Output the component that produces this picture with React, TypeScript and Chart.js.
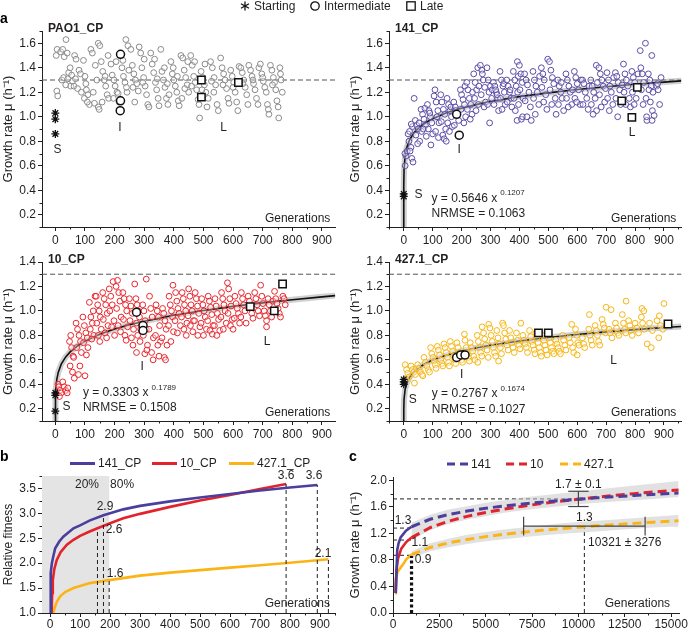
import React, { useEffect, useRef } from 'react';
import { Chart, registerables } from 'chart.js';

Chart.register(...registerables);

const FONT = '"Liberation Sans", Arial, Helvetica, sans-serif';
Chart.defaults.font.family = FONT;
Chart.defaults.font.size = 12;
Chart.defaults.color = '#231f20';

type P = [number, number];

// ---------- tick labels ----------
const A_X_TICKS = [0, 100, 200, 300, 400, 500, 600, 700, 800, 900];
const A_Y_TICKS_TOP = [0.2, 0.4, 0.6, 0.8, 1.0, 1.2, 1.4, 1.6];
const A_Y_TICKS_BOTTOM = [0.2, 0.4, 0.6, 0.8, 1.0, 1.2, 1.4];
const B_Y_TICKS = [1.0, 1.5, 2.0, 2.5, 3.0, 3.5];
const C_X_TICKS = [0, 2500, 5000, 7500, 10000, 12500, 15000];
const C_Y_TICKS = [0, 0.4, 0.8, 1.2, 1.6, 2.0];

// ---------- panel a : PAO1_CP ----------
const PAO1_POINTS: P[] = [
  [3,1.50],[5,1.21],[8,1.17],[6,1.55],[18,1.53],[25,1.55],[30,1.49],[22,1.30],[35,1.26],[28,1.32],
  [40,1.52],[45,1.36],[50,1.40],[55,1.34],[42,1.31],[58,1.29],[52,1.25],[36,1.63],
  [65,1.50],[70,1.47],[80,1.38],[85,1.35],[63,1.25],[75,1.23],[88,1.20],[68,1.31],
  [95,1.46],[100,1.33],[105,1.22],[110,1.18],[98,1.15],[115,1.10],[108,1.12],[103,1.27],
  [120,1.55],[125,1.52],[135,1.42],[140,1.30],[128,1.20],[145,1.08],[132,1.11],[148,1.06],[145,1.60],[150,1.58],
  [155,1.45],[160,1.37],[165,1.30],[170,1.25],[175,1.18],[180,1.15],[158,1.12],[178,1.50],[168,1.33],
  [188,1.43],[192,1.34],[198,1.30],[202,1.25],[208,1.20],[212,1.19],[196,1.15],[215,1.12],[205,1.45],
  [238,1.63],[245,1.58],[225,1.40],[230,1.33],[235,1.28],[242,1.20],[248,1.38],[228,1.46],[240,1.24],
  [255,1.55],[260,1.42],[265,1.35],[270,1.30],[275,1.27],[280,1.21],[268,1.12],[283,1.57],[262,1.24],
  [288,1.52],[292,1.40],[298,1.32],[303,1.25],[308,1.18],[312,1.10],[316,1.08],[300,1.47],[295,1.28],
  [322,1.52],[327,1.43],[332,1.36],[338,1.28],[342,1.22],[347,1.15],[350,1.09],[335,1.47],[344,1.31],
  [356,1.55],[360,1.37],[365,1.30],[370,1.24],[375,1.15],[380,1.10],[384,1.18],[368,1.40],[378,1.27],
  [390,1.45],[395,1.35],[400,1.30],[405,1.25],[410,1.20],[415,1.13],[418,1.09],[398,1.40],[412,1.33],
  [424,1.50],[430,1.48],[435,1.38],[440,1.32],[445,1.26],[450,1.20],[427,1.15],[447,1.45],[437,1.23],
  [457,1.50],[462,1.42],[467,1.33],[472,1.28],[477,1.22],[482,1.14],[485,1.10],[470,1.45],[460,1.25],
  [487,0.99],[492,1.37],[498,1.32],[503,1.26],[508,1.20],[512,1.08],[516,1.15],[505,1.43],[495,1.22],
  [524,1.45],[530,1.40],[536,1.32],[541,1.26],[546,1.10],[550,1.05],[535,1.20],[527,1.29],
  [558,1.48],[563,1.40],[568,1.35],[573,1.30],[578,1.23],[583,1.15],[586,1.11],[566,1.26],
  [592,1.38],[597,1.33],[602,1.28],[607,1.20],[612,1.12],[616,1.05],[620,1.41],[600,1.24],
  [626,1.40],[631,1.36],[636,1.30],[641,1.24],[646,1.18],[650,1.10],[653,1.42],[633,1.27],
  [659,1.38],[664,1.33],[669,1.27],[674,1.22],[679,1.15],[684,1.10],[687,1.40],[667,1.30],
  [692,1.43],[697,1.35],[702,1.29],[707,1.24],[712,1.20],[716,1.10],[719,1.06],[721,1.02],[700,1.32],
  [726,1.42],[731,1.38],[736,1.32],[740,1.28],[744,1.22],[748,1.13],[752,1.08],[754,0.99],[733,1.26],
  [758,1.40],[762,1.30],[766,1.20],[760,1.35],
];
const PAO1_START: P[] = [[0, 1.03], [0, 0.98], [0, 0.86]];
const PAO1_INTER: P[] = [[220, 1.51], [220, 1.13], [219, 1.05]];
const PAO1_LATE: P[] = [[493, 1.30], [493, 1.16], [618, 1.28]];

// ---------- panel a : 141_CP ----------
const C141_POINTS: P[] = [
  [5,0.60],[8,0.68],[4,0.70],[12,0.72],
  [15,0.86],[20,0.88],[18,0.80],[25,0.75],[22,0.72],[28,0.66],[32,0.63],[30,0.92],[26,0.94],
  [36,1.15],[40,0.97],[45,0.93],[50,0.90],[42,0.85],[55,0.80],[48,0.78],[53,0.95],
  [60,1.06],[65,1.02],[70,0.98],[75,0.93],[62,0.88],[78,0.84],[68,0.90],[73,1.07],
  [82,1.10],[87,1.05],[92,1.00],[97,0.95],[85,0.90],[100,0.86],[94,0.77],[90,1.03],
  [108,1.22],[105,1.17],[112,1.12],[118,1.05],[115,1.00],[122,0.95],[110,0.88],[120,0.83],
  [128,1.18],[132,1.12],[137,1.06],[142,1.02],[130,0.96],[145,0.90],[135,0.85],[140,0.82],[147,0.80],
  [150,1.15],[155,1.10],[160,1.05],[165,1.00],[152,0.95],[168,0.92],[158,0.88],[163,1.08],
  [173,1.12],[178,1.08],[185,1.02],[190,0.97],[175,0.93],[188,0.84],[180,1.05],
  [196,1.22],[200,1.18],[205,1.14],[210,1.10],[198,1.06],[214,1.00],[208,0.95],[212,1.25],
  [218,1.28],[222,1.22],[227,1.15],[232,1.10],[220,1.06],[236,1.02],[230,0.98],[238,1.20],
  [256,1.40],[242,1.35],[247,1.28],[252,1.22],[245,1.15],[258,1.10],[250,1.05],[260,1.25],
  [265,1.42],[270,1.38],[275,1.30],[280,1.24],[268,1.18],[283,1.12],[278,1.08],[272,1.35],
  [297,0.95],[288,1.40],[292,1.30],[300,1.25],[295,1.20],[304,1.15],[290,1.10],[306,1.22],
  [310,1.28],[315,1.25],[320,1.20],[325,1.15],[312,1.10],[328,1.05],[318,1.22],[323,1.18],
  [333,1.37],[338,1.30],[343,1.25],[348,1.20],[335,1.15],[351,1.10],[340,1.06],[346,1.27],
  [356,1.30],[361,1.25],[366,1.20],[371,1.15],[358,1.12],[374,1.08],[368,1.22],
  [379,1.37],[384,1.30],[389,1.25],[394,1.20],[381,1.15],[397,1.10],[386,1.05],[392,0.97],[396,1.33],
  [393,1.45],[400,1.42],[405,1.35],[410,1.28],[402,1.22],[413,1.15],[407,0.98],[411,1.00],
  [418,1.35],[423,1.30],[428,1.26],[433,1.20],[420,1.13],[438,1.08],[426,1.00],[441,0.97],
  [447,1.37],[452,1.30],[457,1.25],[462,1.20],[449,1.15],[467,1.10],[455,1.02],[470,1.33],
  [498,1.47],[476,1.40],[481,1.35],[486,1.30],[478,1.24],[491,1.18],[484,1.12],[495,1.06],
  [504,1.45],[509,1.38],[514,1.32],[519,1.27],[506,1.22],[524,1.15],[512,1.10],[527,1.02],
  [533,1.30],[538,1.25],[543,1.20],[548,1.15],[535,1.10],[553,1.05],[545,1.28],
  [561,1.35],[566,1.30],[571,1.25],[576,1.20],[563,1.15],[581,1.10],[569,1.08],[584,1.22],
  [590,1.37],[595,1.32],[600,1.27],[605,1.22],[592,1.15],[610,1.10],[598,1.12],[613,1.30],
  [618,1.30],[623,1.27],[628,1.20],[633,1.15],[620,1.10],[638,1.06],[641,1.25],
  [647,1.30],[652,1.25],[657,1.20],[662,1.15],[649,1.10],[667,1.05],[655,1.02],[670,1.28],[666,1.42],
  [675,1.40],[680,1.35],[685,1.30],[690,1.25],[677,1.18],[695,1.12],[683,1.08],[698,1.23],
  [703,1.36],[708,1.30],[713,1.25],[718,1.20],[705,1.15],[723,1.10],[711,1.05],[726,1.32],
  [732,1.36],[737,1.33],[742,1.28],[747,1.22],[734,1.15],[750,1.10],[740,1.00],[755,1.26],
  [760,1.43],[765,1.35],[770,1.30],[775,1.25],[762,1.20],[780,1.15],[768,1.10],[784,1.08],
  [818,1.54],[789,1.37],[794,1.32],[799,1.28],[791,1.20],[804,1.15],[797,1.10],[810,1.35],
  [836,1.60],[820,1.40],[825,1.35],[830,1.28],[822,1.22],[838,1.15],[828,1.10],[841,0.97],[840,1.00],
  [858,1.50],[846,1.35],[851,1.30],[856,1.25],[848,1.22],[862,1.20],[853,1.12],[860,1.05],[859,0.97],[866,1.01],
  [890,1.32],[875,1.25],[880,1.22],[885,1.10],[878,1.27],
];
const C141_START: P[] = [[0, 0.37], [0, 0.35]];
const C141_INTER: P[] = [[183, 1.02], [192, 0.85]];
const C141_LATE: P[] = [[754, 1.13], [789, 0.995], [808, 1.24]];
const C141_FIT: P[] = [
  [0,0.1],[0.001,0.245],[0.1,0.428],[1,0.565],[5,0.686],[10,0.745],[20,0.811],[35,0.867],[50,0.905],
  [75,0.951],[100,0.984],[150,1.034],[200,1.070],[250,1.099],[300,1.124],[400,1.164],[500,1.195],
  [600,1.222],[700,1.245],[800,1.265],[900,1.283],[960,1.293],
];

// ---------- panel a : 10_CP ----------
const C10_POINTS: P[] = [
  [9,0.40],[12,0.38],[16,0.35],[20,0.33],[14,0.30],
  [25,0.42],[30,0.38],[35,0.35],[40,0.33],[42,0.37],
  [52,0.80],[48,0.75],[55,0.70],[60,0.63],[50,0.55],[58,0.50],[64,0.45],[62,0.62],
  [70,0.90],[75,0.85],[80,0.80],[85,0.75],[72,0.70],[88,0.66],[78,0.48],[83,0.55],
  [93,0.95],[98,0.88],[103,0.82],[108,0.78],[95,0.74],[110,0.70],[105,0.64],[100,0.47],
  [134,1.12],[115,1.07],[120,0.95],[125,0.90],[118,0.85],[130,0.80],[123,0.77],[128,1.00],
  [138,1.12],[143,1.05],[148,1.00],[152,0.95],[140,0.90],[155,0.85],[145,0.80],[150,0.75],
  [160,1.15],[165,1.10],[170,1.05],[175,0.98],[162,0.93],[178,0.88],[168,0.82],[173,0.78],
  [195,1.24],[182,1.18],[187,1.12],[192,1.05],[184,1.00],[198,0.92],[190,0.87],[200,0.80],
  [210,1.25],[205,1.20],[214,1.15],[218,1.08],[207,1.02],[222,0.95],[212,0.88],[220,0.83],
  [228,1.15],[232,1.10],[237,1.05],[241,1.00],[230,0.93],[244,0.87],[235,0.80],[239,0.76],
  [268,1.22],[250,1.10],[255,1.04],[260,0.98],[252,0.92],[264,0.85],[257,0.78],[262,0.72],
  [272,1.10],[276,1.05],[280,1.00],[284,0.95],[274,0.90],[288,0.85],[278,0.80],[286,0.75],[274,0.66],
  [295,1.05],[299,1.00],[303,0.92],[307,0.85],[297,0.80],[311,0.72],[302,0.65],[309,0.68],
  [307,1.26],[318,1.12],[322,1.02],[327,0.95],[316,0.85],[331,0.78],[325,0.66],[330,0.60],
  [340,1.05],[344,1.00],[348,0.95],[352,0.88],[338,0.80],[355,0.75],[346,0.72],[350,0.63],
  [362,1.02],[366,0.98],[370,0.92],[374,0.85],[360,0.78],[377,0.72],[368,0.62],[372,0.60],
  [384,1.12],[388,1.05],[392,1.00],[396,0.95],[382,0.88],[399,0.83],[390,0.75],[397,1.21],
  [406,1.15],[410,1.08],[414,1.02],[418,0.98],[404,0.92],[422,0.88],[412,0.82],
  [428,1.15],[432,1.10],[436,1.05],[440,1.00],[426,0.95],[444,0.90],[434,0.85],[442,0.80],
  [450,1.18],[454,1.12],[458,1.05],[462,1.00],[448,0.96],[466,0.92],[456,0.88],[464,0.83],
  [472,1.15],[476,1.10],[480,1.04],[484,0.98],[470,0.92],[488,0.87],[481,0.80],
  [494,1.10],[498,1.05],[502,1.00],[506,0.95],[492,0.90],[510,0.85],[500,0.80],
  [516,1.12],[520,1.08],[524,1.03],[528,0.97],[514,0.92],[532,0.88],[522,0.84],[530,0.81],
  [539,1.10],[543,1.04],[547,0.98],[551,0.93],[537,0.88],[555,0.84],[545,0.80],
  [561,1.15],[565,1.10],[569,1.05],[573,1.00],[559,0.95],[577,0.90],[567,0.85],
  [581,1.23],[585,1.18],[589,1.10],[593,1.04],[583,0.98],[597,0.93],[591,0.88],[600,0.85],
  [606,1.12],[610,1.06],[614,1.02],[618,0.98],[604,0.94],[622,0.90],
  [628,1.15],[632,1.10],[636,1.05],[640,1.00],[626,0.95],[644,0.90],
  [651,1.12],[655,1.08],[659,1.03],[663,0.98],[667,0.94],
  [673,1.15],[677,1.10],[681,1.05],[685,1.00],[689,0.96],
  [693,1.21],[697,1.12],[701,1.06],[705,1.00],[709,0.96],[713,0.92],
  [718,1.10],[722,1.05],[726,1.00],[730,0.95],[713,0.87],[734,1.08],
  [740,1.16],[744,1.10],[748,1.06],[752,1.02],[756,0.98],[760,0.95],
  [768,1.12],[772,1.10],[776,1.05],
];
const C10_START: P[] = [[0, 0.33], [0, 0.31], [0, 0.18]];
const C10_INTER: P[] = [[274, 0.99], [296, 0.88], [296, 0.84]];
const C10_LATE: P[] = [[658, 1.035], [739, 1.0], [767, 1.22]];
const C10_FIT: P[] = [
  [0,0.1],[0.1,0.219],[1,0.330],[5,0.441],[10,0.499],[20,0.565],[35,0.624],[50,0.665],[75,0.715],
  [100,0.753],[150,0.810],[200,0.852],[250,0.887],[300,0.916],[400,0.965],[500,1.004],[600,1.037],
  [700,1.066],[800,1.092],[900,1.115],[945,1.125],
];

// ---------- panel a : 427.1_CP ----------
const C427_POINTS: P[] = [
  [5,0.56],[10,0.52],[14,0.49],[18,0.46],[8,0.44],
  [25,0.55],[30,0.52],[35,0.50],[40,0.48],[37,0.41],[44,0.53],
  [48,0.56],[53,0.53],[58,0.50],[63,0.48],[66,0.47],
  [70,0.62],[75,0.58],[80,0.55],[85,0.52],[89,0.50],
  [93,0.70],[97,0.65],[101,0.62],[105,0.59],[109,0.56],[112,0.53],
  [116,0.71],[120,0.68],[124,0.64],[128,0.60],[132,0.57],[135,0.55],
  [139,0.73],[143,0.70],[147,0.66],[151,0.62],[155,0.58],[158,0.55],
  [161,0.75],[165,0.71],[169,0.67],[173,0.63],[177,0.60],[180,0.57],
  [184,0.74],[188,0.70],[192,0.66],[196,0.63],[200,0.60],[203,0.58],
  [210,0.81],[212,0.76],[216,0.70],[220,0.66],[224,0.62],[227,0.59],
  [230,0.74],[234,0.70],[238,0.67],[242,0.63],[246,0.60],[256,0.58],
  [271,0.87],[254,0.80],[258,0.75],[262,0.70],[266,0.66],[270,0.63],
  [294,0.89],[276,0.82],[280,0.77],[284,0.72],[288,0.68],[292,0.62],
  [298,0.86],[302,0.80],[306,0.75],[310,0.70],[314,0.66],[318,0.63],
  [342,0.90],[322,0.84],[326,0.78],[330,0.73],[334,0.70],[338,0.65],[328,0.59],
  [345,0.88],[349,0.82],[353,0.77],[357,0.72],[361,0.68],
  [366,0.84],[370,0.78],[374,0.74],[378,0.70],[382,0.66],
  [405,0.90],[390,0.82],[394,0.76],[398,0.72],[402,0.69],
  [412,0.80],[416,0.76],[420,0.73],[424,0.70],[428,0.66],
  [435,0.84],[439,0.79],[443,0.75],[447,0.72],[451,0.68],[454,0.65],
  [457,0.82],[461,0.78],[465,0.74],[469,0.70],[473,0.66],[476,0.63],
  [480,0.80],[484,0.76],[488,0.72],[492,0.68],[496,0.64],
  [503,0.78],[507,0.74],[511,0.70],[515,0.67],[519,0.65],
  [526,0.76],[530,0.73],[534,0.70],[538,0.67],[542,0.65],
  [549,0.80],[553,0.76],[557,0.72],[561,0.68],
  [581,0.89],[572,0.78],[576,0.74],[584,0.70],[588,0.66],
  [594,0.85],[598,0.80],[602,0.74],[606,0.72],[600,0.64],
  [642,0.97],[618,0.78],[622,0.73],[626,0.70],
  [640,0.85],[644,0.80],[648,0.76],[652,0.72],
  [662,0.88],[666,0.84],[670,0.80],[674,0.75],[678,0.72],
  [700,1.03],[686,0.93],[690,0.89],[694,0.86],[698,0.82],
  [717,1.01],[710,0.85],[714,0.82],[720,0.78],
  [732,0.90],[736,0.86],[740,0.82],[744,0.80],
  [769,1.08],[756,0.97],[760,0.90],[764,0.85],[768,0.82],
  [778,0.92],[782,0.88],[786,0.84],[790,0.80],
  [824,1.02],[830,1.00],[800,0.90],[806,0.86],[812,0.82],
  [822,0.95],[826,0.90],[832,0.85],[842,0.73],[856,0.70],
  [884,0.96],[850,0.90],[860,0.84],[882,0.78],
  [900,1.06],[876,0.92],[888,0.88],[896,0.85],
];
const C427_START: P[] = [[0, 0.44], [0, 0.42], [0, 0.40]];
const C427_INTER: P[] = [[183, 0.62], [197, 0.64], [212, 0.64]];
const C427_LATE: P[] = [[466, 0.82], [500, 0.82], [914, 0.893]];
const C427_FIT: P[] = [
  [0,0.1],[0.1,0.188],[1,0.277],[5,0.362],[10,0.407],[20,0.457],[35,0.502],[50,0.533],[75,0.570],
  [100,0.598],[150,0.640],[200,0.672],[250,0.697],[300,0.719],[400,0.754],[500,0.783],[600,0.807],
  [700,0.829],[800,0.847],[900,0.864],[960,0.873],
];

// ---------- panel b : relative fitness ----------
const B_141: P[] = [
  [0,1.0],[1,1.45],[3,1.8],[6,2.0],[10,2.12],[17,2.3],[30,2.43],[44,2.53],[60,2.61],[78,2.7],[100,2.76],
  [133,2.86],[178,2.96],[244,3.08],[300,3.15],[400,3.24],[500,3.32],[600,3.39],[700,3.46],[800,3.52],[891,3.57],
];
const B_10: P[] = [
  [5,1.0],[7,1.4],[9,1.66],[14,1.88],[22,2.06],[35,2.22],[56,2.37],[78,2.47],[100,2.55],[130,2.63],[158,2.7],
  [200,2.8],[244,2.9],[300,2.99],[400,3.13],[500,3.26],[600,3.37],[700,3.49],[787,3.59],
];
const B_427: P[] = [
  [11,1.0],[16,1.12],[22,1.22],[33,1.33],[50,1.42],[78,1.5],[100,1.54],[133,1.6],[197,1.66],[300,1.75],
  [400,1.81],[500,1.86],[600,1.91],[700,1.96],[800,2.01],[928,2.08],
];

// ---------- panel c : extrapolation ----------
const C_141_SOLID: P[] = [[150,0.3],[230,0.95],[300,1.05],[411,1.14],[700,1.24],[1000,1.30]];
const C_10_SOLID: P[] = [[140,0.3],[190,0.65],[270,0.82],[446,0.97],[714,1.07],[1000,1.14]];
const C_427_SOLID: P[] = [[125,0.3],[150,0.52],[250,0.62],[400,0.68],[535,0.73],[714,0.81],[1000,0.88]];
const C_141_DASH: P[] = [
  [1000,1.30],[2000,1.413],[3000,1.484],[4000,1.536],[5000,1.579],[6000,1.613],[7000,1.644],[8000,1.670],
  [9000,1.694],[10000,1.716],[11000,1.736],[12000,1.754],[13000,1.771],[14000,1.787],[15000,1.802],[15400,1.808],
];
const C_10_DASH: P[] = [
  [1000,1.137],[2000,1.287],[3000,1.384],[4000,1.457],[5000,1.516],[6000,1.566],[7000,1.610],[8000,1.649],
  [9000,1.684],[10000,1.716],[11000,1.746],[12000,1.773],[13000,1.799],[14000,1.823],[15000,1.845],[15400,1.854],
];
const C_427_DASH: P[] = [
  [1000,0.879],[2000,0.988],[3000,1.057],[4000,1.109],[5000,1.151],[6000,1.187],[7000,1.218],[8000,1.246],
  [9000,1.271],[10000,1.293],[11000,1.314],[12000,1.333],[13000,1.351],[14000,1.368],[15000,1.384],[15400,1.390],
];
const C_BAND_HI: P[] = [
  [1000,1.36],[2000,1.48],[3000,1.56],[4000,1.61],[5000,1.66],[6000,1.70],[7000,1.74],[8000,1.77],
  [9000,1.80],[10000,1.83],[11000,1.86],[12000,1.89],[13000,1.92],[14000,1.95],[15000,1.98],[15400,1.99],
];
const C_BAND_LO: P[] = [
  [1000,1.10],[2000,1.25],[3000,1.34],[4000,1.41],[5000,1.46],[6000,1.51],[7000,1.55],[8000,1.58],
  [9000,1.61],[10000,1.64],[11000,1.66],[12000,1.68],[13000,1.70],[14000,1.72],[15000,1.74],[15400,1.75],
];
const C_YBAND_HI: P[] = [
  [1000,0.93],[2000,1.05],[3000,1.12],[4000,1.18],[5000,1.22],[6000,1.26],[7000,1.29],[8000,1.32],
  [9000,1.35],[10000,1.37],[11000,1.39],[12000,1.41],[13000,1.43],[14000,1.45],[15000,1.47],[15400,1.48],
];
const C_YBAND_LO: P[] = [
  [1000,0.83],[2000,0.93],[3000,0.99],[4000,1.04],[5000,1.08],[6000,1.11],[7000,1.14],[8000,1.17],
  [9000,1.19],[10000,1.21],[11000,1.23],[12000,1.25],[13000,1.27],[14000,1.29],[15000,1.30],[15400,1.30],
];
const GEN_AT_PLATEAU = 10321;
const GEN_SD = 3276;
const MU_PLATEAU = 1.72;
const MU_SD = 0.115;

// ---------- colours ----------
const COL_PAO1 = '#8a8a8a';
const COL_141 = '#5a4da6';
const COL_10 = '#e8262d';
const COL_427 = '#f6b512';
const LINE_141 = '#4b3f9e';
const LINE_10 = '#e3232b';
const LINE_427 = '#fbb416';
const INK = '#231f20';

// ---------- helpers ----------
const pts = (a: P[]) => a.map(([x, y]) => ({ x, y }));

function drawItems(chart: any, items: any[]) {
  const { ctx, chartArea: a } = chart;
  const X = (v: number) => chart.scales.x.getPixelForValue(v);
  const Y = (v: number) => chart.scales.y.getPixelForValue(v);
  for (const it of items) {
    ctx.save();
    if (it.kind === 'rect') {
      const x0 = Math.max(a.left, X(it.x0));
      const x1 = Math.min(a.right, X(it.x1));
      ctx.fillStyle = it.color;
      ctx.fillRect(x0, a.top, x1 - x0, a.bottom - a.top);
    } else if (it.kind === 'seg') {
      ctx.strokeStyle = it.color || INK;
      ctx.lineWidth = it.width || 1;
      ctx.setLineDash(it.dash || []);
      ctx.beginPath();
      ctx.moveTo(X(it.x0), Y(it.y0));
      ctx.lineTo(X(it.x1), Y(it.y1));
      ctx.stroke();
    } else if (it.kind === 'text') {
      const px = it.ax ? (it.ax === 'left' ? a.left : a.right) + (it.dx || 0) : X(it.x) + (it.dx || 0);
      const py = it.ay ? (it.ay === 'top' ? a.top : a.bottom) + (it.dy || 0) : Y(it.y) + (it.dy || 0);
      ctx.fillStyle = it.color || INK;
      ctx.font = `${it.bold ? 'bold ' : ''}${it.size || 12}px ${FONT}`;
      ctx.textAlign = it.align || 'center';
      ctx.textBaseline = 'middle';
      ctx.fillText(it.text, px, py);
      if (it.sup) {
        const w = ctx.measureText(it.text).width;
        ctx.font = `8px ${FONT}`;
        ctx.textAlign = 'left';
        ctx.fillText(it.sup, px + w + 3, py - 5);
      }
    }
    ctx.restore();
  }
}

function drawMinor(chart: any, minor: any) {
  if (!minor) return;
  const { ctx, chartArea: a } = chart;
  ctx.save();
  ctx.strokeStyle = INK;
  ctx.lineWidth = 1;
  const isMajor = (v: number, m: number) => Math.abs(v / m - Math.round(v / m)) < 1e-6;
  if (minor.x) {
    const s = chart.scales.x;
    const [step, major] = minor.x;
    for (let v = Math.ceil(s.min / step) * step; v <= s.max + 1e-9; v += step) {
      if (isMajor(v, major)) continue;
      const p = Math.round(s.getPixelForValue(v)) + 0.5;
      ctx.beginPath(); ctx.moveTo(p, a.bottom); ctx.lineTo(p, a.bottom + 2.5); ctx.stroke();
    }
  }
  if (minor.y) {
    const s = chart.scales.y;
    const [step, major] = minor.y;
    for (let v = Math.ceil(s.min / step - 1e-9) * step; v <= s.max + 1e-9; v += step) {
      if (isMajor(v, major)) continue;
      const p = Math.round(s.getPixelForValue(v)) + 0.5;
      ctx.beginPath(); ctx.moveTo(a.left - 2.5, p); ctx.lineTo(a.left, p); ctx.stroke();
    }
  }
  ctx.restore();
}

function makeDeco(spec: any) {
  return {
    id: 'deco',
    beforeDatasetsDraw(chart: any) { drawItems(chart, spec.before || []); },
    afterDatasetsDraw(chart: any) { drawItems(chart, spec.after || []); },
    afterDraw(chart: any) { drawMinor(chart, spec.minor); },
  };
}

function scaleOpts(min: number, max: number, ticks: number[], fmt: (v: number) => string, fit: number, horizontal: boolean, title?: string, pad = 2) {
  return {
    type: 'linear',
    min, max,
    bounds: 'data',
    afterBuildTicks: (s: any) => { s.ticks = ticks.map((v) => ({ value: v })); },
    afterFit: (s: any) => { if (horizontal) s.height = fit; else s.width = fit; },
    border: { display: true, color: INK, width: 1 },
    grid: { display: true, drawOnChartArea: false, drawTicks: true, tickLength: 4, color: INK, lineWidth: 1 },
    ticks: { autoSkip: false, maxRotation: 0, minRotation: 0, padding: pad, color: INK, font: { size: 12, family: FONT }, callback: (v: any) => fmt(Number(v)) },
    title: title
      ? { display: true, text: title, color: INK, font: { size: 13, family: FONT }, padding: { top: 1, bottom: 0 } }
      : { display: false },
  };
}

function baseConfig(datasets: any[], xs: any, ys: any, deco: any, padTop: number, padRight: number) {
  return {
    type: 'line',
    data: { datasets },
    options: {
      responsive: false,
      animation: false,
      devicePixelRatio: 1,
      events: [],
      layout: { padding: { top: padTop, right: padRight, left: 0, bottom: 0 } },
      plugins: { legend: { display: false }, tooltip: { enabled: false } },
      scales: { x: xs, y: ys },
    },
    plugins: [makeDeco(deco)],
  };
}

const f1 = (v: number) => v.toFixed(1);
const f0 = (v: number) => String(Math.round(v));

interface PanelA {
  title: string; color: string; points: P[]; start: P[]; inter: P[]; late: P[]; fit?: P[];
  xmin: number; xmax: number; ymax: number; yTicks: number[];
  S: P; I: P; L: P; eq?: [string, string, string]; eqPos?: P; padRight: number;
}

function panelAConfig(p: PanelA) {
  const datasets: any[] = [
    { data: pts(p.start), showLine: false, pointStyle: 'star', pointRadius: 4, borderColor: '#111', backgroundColor: '#111', borderWidth: 1.3 },
    { data: pts(p.inter), showLine: false, pointStyle: 'circle', pointRadius: 4, borderColor: '#111', backgroundColor: '#fff', borderWidth: 1.5 },
    { data: pts(p.late), showLine: false, pointStyle: 'rect', pointRadius: 5.2, borderColor: '#111', backgroundColor: '#fff', borderWidth: 1.5 },
    { data: pts(p.points), showLine: false, pointStyle: 'circle', pointRadius: 2.9, borderColor: p.color, backgroundColor: 'rgba(255,255,255,0.35)', borderWidth: 1 },
  ];
  if (p.fit) {
    datasets.push({ data: pts(p.fit), showLine: true, pointRadius: 0, borderColor: '#111', borderWidth: 1.6, tension: 0, fill: false });
    datasets.push({ data: pts(p.fit), showLine: true, pointRadius: 0, borderColor: 'rgba(150,150,150,0.45)', borderWidth: 6, tension: 0, fill: false });
  }
  const before: any[] = [
    { kind: 'seg', x0: p.xmin, x1: p.xmax, y0: 1.3, y1: 1.3, dash: [5, 3], color: '#555' },
  ];
  const after: any[] = [
    { kind: 'text', text: p.title, bold: true, ax: 'left', dx: 6, ay: 'top', dy: -2, align: 'left' },
    { kind: 'text', text: 'Generations', ax: 'right', dx: -5, ay: 'bottom', dy: -8, align: 'right' },
    { kind: 'text', text: 'S', x: p.S[0], y: p.S[1] },
    { kind: 'text', text: 'I', x: p.I[0], y: p.I[1] },
    { kind: 'text', text: 'L', x: p.L[0], y: p.L[1] },
  ];
  if (p.eq && p.eqPos) {
    after.push({ kind: 'text', text: p.eq[0], sup: p.eq[1], x: p.eqPos[0], y: p.eqPos[1], align: 'left' });
    after.push({ kind: 'text', text: p.eq[2], x: p.eqPos[0], y: p.eqPos[1] - 0.125, align: 'left' });
  }
  return baseConfig(
    datasets,
    scaleOpts(p.xmin, p.xmax, A_X_TICKS, f0, 22, true),
    scaleOpts(0.1, p.ymax, p.yTicks, f1, 42, false, 'Growth rate μ (h⁻¹)'),
    { before, after, minor: { x: [50, 100], y: [0.1, 0.2] } },
    12, p.padRight,
  );
}

function panelBConfig() {
  const line = (d: P[], c: string) => ({ data: pts(d), showLine: true, pointRadius: 0, borderColor: c, borderWidth: 2.6, tension: 0, fill: false });
  const datasets = [line(B_141, LINE_141), line(B_10, LINE_10), line(B_427, LINE_427)];
  const dl = (x: number, y: number) => ({ kind: 'seg', x0: x, x1: x, y0: 1.0, y1: y, dash: [4, 3], color: INK });
  const before = [{ kind: 'rect', x0: -40, x1: 197, color: '#e4e4e4' }];
  const after = [
    dl(158, 2.68), dl(178, 2.96), dl(197, 1.66), dl(787, 3.59), dl(891, 3.57), dl(928, 2.08),
    { kind: 'text', text: '20%', x: 123, y: 3.57 },
    { kind: 'text', text: '80%', x: 240, y: 3.57 },
    { kind: 'text', text: '2.9', x: 183, y: 3.13 },
    { kind: 'text', text: '2.6', x: 213, y: 2.67 },
    { kind: 'text', text: '1.6', x: 217, y: 1.78 },
    { kind: 'text', text: '3.6', x: 787, y: 3.75 },
    { kind: 'text', text: '3.6', x: 880, y: 3.75 },
    { kind: 'text', text: '2.1', x: 910, y: 2.2 },
    { kind: 'text', text: 'Generations', ax: 'right', dx: -5, ay: 'bottom', dy: -9, align: 'right' },
  ];
  const ys = scaleOpts(1.0, 3.75, B_Y_TICKS, f1, 42, false, 'Relative fitness');
  (ys.title as any).font = { size: 12, family: FONT };
  return baseConfig(
    datasets,
    scaleOpts(-27, 950, A_X_TICKS, f0, 15, true, undefined, 0),
    ys,
    { before, after, minor: { x: [50, 100], y: [0.25, 0.5] } },
    14, 6,
  );
}

function panelCConfig() {
  const solid = (d: P[], c: string) => ({ data: pts(d), showLine: true, pointRadius: 0, borderColor: c, borderWidth: 2.6, tension: 0, fill: false });
  const dashed = (d: P[], c: string) => ({ data: pts(d), showLine: true, pointRadius: 0, borderColor: c, borderWidth: 3, borderDash: [9, 5], tension: 0, fill: false });
  const band = (d: P[], fill: any) => ({ data: pts(d), showLine: true, pointRadius: 0, borderWidth: 0, borderColor: 'rgba(0,0,0,0)', backgroundColor: 'rgba(200,200,200,0.55)', tension: 0, fill });
  const datasets = [
    solid(C_141_SOLID, LINE_141), solid(C_10_SOLID, LINE_10), solid(C_427_SOLID, LINE_427),
    dashed(C_141_DASH, LINE_141), dashed(C_10_DASH, LINE_10), dashed(C_427_DASH, LINE_427),
    band(C_BAND_HI, '+1'), band(C_BAND_LO, false),
    band(C_YBAND_HI, '+1'), band(C_YBAND_LO, false),
  ];
  const seg = (x0: number, y0: number, x1: number, y1: number, o: any = {}) => ({ kind: 'seg', x0, y0, x1, y1, color: o.color || INK, dash: o.dash, width: o.width });
  const D = [4, 3];
  const EB = { color: '#444', width: 1.2 };
  const before = [
    seg(0, MU_PLATEAU, 10000, MU_PLATEAU, { dash: D }),
    seg(0, 1.28, 1000, 1.28, { dash: D }),
    seg(0, 1.10, 1000, 1.10, { dash: D }),
    seg(0, 0.87, 1000, 0.87, { dash: D }),
    seg(GEN_AT_PLATEAU, 0, GEN_AT_PLATEAU, 1.3, { dash: D }),
  ];
  const after = [
    seg(1000, 0, 1000, 0.86, { width: 3.2, dash: [3, 2.5], color: '#111' }),
    seg(10000, MU_PLATEAU - MU_SD, 10000, MU_PLATEAU + MU_SD, EB),
    seg(9450, MU_PLATEAU - MU_SD, 10550, MU_PLATEAU - MU_SD, EB),
    seg(9450, MU_PLATEAU + MU_SD, 10550, MU_PLATEAU + MU_SD, EB),
    seg(GEN_AT_PLATEAU - GEN_SD, 1.31, GEN_AT_PLATEAU + GEN_SD, 1.31, EB),
    seg(GEN_AT_PLATEAU - GEN_SD, 1.17, GEN_AT_PLATEAU - GEN_SD, 1.45, EB),
    seg(GEN_AT_PLATEAU + GEN_SD, 1.17, GEN_AT_PLATEAU + GEN_SD, 1.45, EB),
    { kind: 'text', text: '1.7 ± 0.1', x: 10000, y: 1.93 },
    { kind: 'text', text: '1.3', x: 10321, y: 1.44 },
    { kind: 'text', text: '10321 ± 3276', x: 12500, y: 1.06 },
    { kind: 'text', text: '1.3', x: 540, y: 1.39 },
    { kind: 'text', text: '1.1', x: 1450, y: 1.06 },
    { kind: 'text', text: '0.9', x: 1620, y: 0.81 },
    { kind: 'text', text: 'Generations', ax: 'right', dx: -9, ay: 'bottom', dy: -9, align: 'right' },
  ];
  return baseConfig(
    datasets,
    scaleOpts(0, 15430, C_X_TICKS, f0, 15, true, undefined, 0),
    scaleOpts(0, 2.05, C_Y_TICKS, f1, 46, false, 'Growth rate μ (h⁻¹)'),
    { before, after, minor: { x: [1250, 2500], y: [0.2, 0.4] } },
    14, 7,
  );
}

function ChartBox({ left, top, width, height, make }: { left: number; top: number; width: number; height: number; make: () => any }) {
  const ref = useRef<HTMLCanvasElement>(null);
  useEffect(() => {
    const chart = new Chart(ref.current as HTMLCanvasElement, make());
    return () => chart.destroy();
  }, []);
  return (
    <canvas ref={ref} width={width} height={height}
      style={{ position: 'absolute', left, top, width, height, display: 'block' }} />
  );
}

const txt: React.CSSProperties = {
  position: 'absolute', font: `12px ${FONT}`, lineHeight: '12px', whiteSpace: 'nowrap', color: INK,
};
const letter: React.CSSProperties = {
  position: 'absolute', font: `bold 14px ${FONT}`, lineHeight: '14px', color: '#000',
};

export default function App() {
  return (
    <div style={{ position: 'absolute', left: 0, top: 0, width: 688, height: 628, background: '#fff', overflow: 'hidden' }}>
      <ChartBox left={0} top={19} width={342} height={230} make={() => panelAConfig({
        title: 'PAO1_CP', color: COL_PAO1, points: PAO1_POINTS, start: PAO1_START, inter: PAO1_INTER, late: PAO1_LATE,
        xmin: -45, xmax: 945, ymax: 1.7, yTicks: A_Y_TICKS_TOP, S: [7, 0.73], I: [218, 0.91], L: [568, 0.91], padRight: 6,
      })} />
      <ChartBox left={347} top={19} width={341} height={230} make={() => panelAConfig({
        title: '141_CP', color: COL_141, points: C141_POINTS, start: C141_START, inter: C141_INTER, late: C141_LATE, fit: C141_FIT,
        xmin: -51, xmax: 960, ymax: 1.7, yTicks: A_Y_TICKS_TOP, S: [51, 0.36], I: [192, 0.73], L: [790, 0.867],
        eq: ['y = 0.5646 x', '0.1207', 'NRMSE = 0.1063'], eqPos: [96, 0.335], padRight: 4,
      })} />
      <ChartBox left={0} top={250} width={342} height={193} make={() => panelAConfig({
        title: '10_CP', color: COL_10, points: C10_POINTS, start: C10_START, inter: C10_INTER, late: C10_LATE, fit: C10_FIT,
        xmin: -45, xmax: 945, ymax: 1.4, yTicks: A_Y_TICKS_BOTTOM, S: [38, 0.217], I: [293, 0.544], L: [715, 0.75],
        eq: ['y = 0.3303 x', '0.1789', 'NRMSE = 0.1508'], eqPos: [93, 0.33], padRight: 6,
      })} />
      <ChartBox left={347} top={250} width={341} height={193} make={() => panelAConfig({
        title: '427.1_CP', color: COL_427, points: C427_POINTS, start: C427_START, inter: C427_INTER, late: C427_LATE, fit: C427_FIT,
        xmin: -51, xmax: 960, ymax: 1.4, yTicks: A_Y_TICKS_BOTTOM, S: [31, 0.272], I: [200, 0.476], L: [726, 0.593],
        eq: ['y = 0.2767 x', '0.1674', 'NRMSE = 0.1027'], eqPos: [97, 0.32], padRight: 4,
      })} />
      <ChartBox left={0} top={462} width={341} height={166} make={panelBConfig} />
      <ChartBox left={347} top={463} width={341} height={165} make={panelCConfig} />

      {/* panel letters */}
      <div style={{ ...letter, left: 0, top: 11 }}>a</div>
      <div style={{ ...letter, left: 0, top: 449 }}>b</div>
      <div style={{ ...letter, left: 349, top: 449 }}>c</div>

      {/* top legend */}
      <svg style={{ position: 'absolute', left: 240, top: 1 }} width={10} height={10}>
        <g stroke="#111" strokeWidth={1.3}>
          <line x1={5} y1={0.5} x2={5} y2={9.5} />
          <line x1={1} y1={2.7} x2={9} y2={7.3} />
          <line x1={1} y1={7.3} x2={9} y2={2.7} />
        </g>
      </svg>
      <span style={{ ...txt, left: 254, top: 0 }}>Starting</span>
      <svg style={{ position: 'absolute', left: 310, top: 1 }} width={10} height={10}>
        <circle cx={5} cy={5} r={4.2} fill="none" stroke="#111" strokeWidth={1.3} />
      </svg>
      <span style={{ ...txt, left: 324, top: 0 }}>Intermediate</span>
      <svg style={{ position: 'absolute', left: 406, top: 1 }} width={10} height={10}>
        <rect x={0.8} y={0.8} width={8.4} height={8.4} fill="none" stroke="#111" strokeWidth={1.3} />
      </svg>
      <span style={{ ...txt, left: 420, top: 0 }}>Late</span>

      {/* legend b */}
      <div style={{ position: 'absolute', left: 70, top: 461.5, width: 25, height: 3, background: LINE_141 }} />
      <span style={{ ...txt, left: 98, top: 457 }}>141_CP</span>
      <div style={{ position: 'absolute', left: 152, top: 461.5, width: 25, height: 3, background: LINE_10 }} />
      <span style={{ ...txt, left: 180, top: 457 }}>10_CP</span>
      <div style={{ position: 'absolute', left: 229, top: 461.5, width: 25, height: 3, background: LINE_427 }} />
      <span style={{ ...txt, left: 257, top: 457 }}>427.1_CP</span>

      {/* legend c */}
      <svg style={{ position: 'absolute', left: 447, top: 461 }} width={22} height={6}>
        <line x1={0} y1={3} x2={22} y2={3} stroke={LINE_141} strokeWidth={3} strokeDasharray="8 5" />
      </svg>
      <span style={{ ...txt, left: 471, top: 458 }}>141</span>
      <svg style={{ position: 'absolute', left: 506, top: 461 }} width={22} height={6}>
        <line x1={0} y1={3} x2={22} y2={3} stroke={LINE_10} strokeWidth={3} strokeDasharray="8 5" />
      </svg>
      <span style={{ ...txt, left: 530, top: 458 }}>10</span>
      <svg style={{ position: 'absolute', left: 560, top: 461 }} width={22} height={6}>
        <line x1={0} y1={3} x2={22} y2={3} stroke={LINE_427} strokeWidth={3} strokeDasharray="8 5" />
      </svg>
      <span style={{ ...txt, left: 584, top: 458 }}>427.1</span>
    </div>
  );
}
